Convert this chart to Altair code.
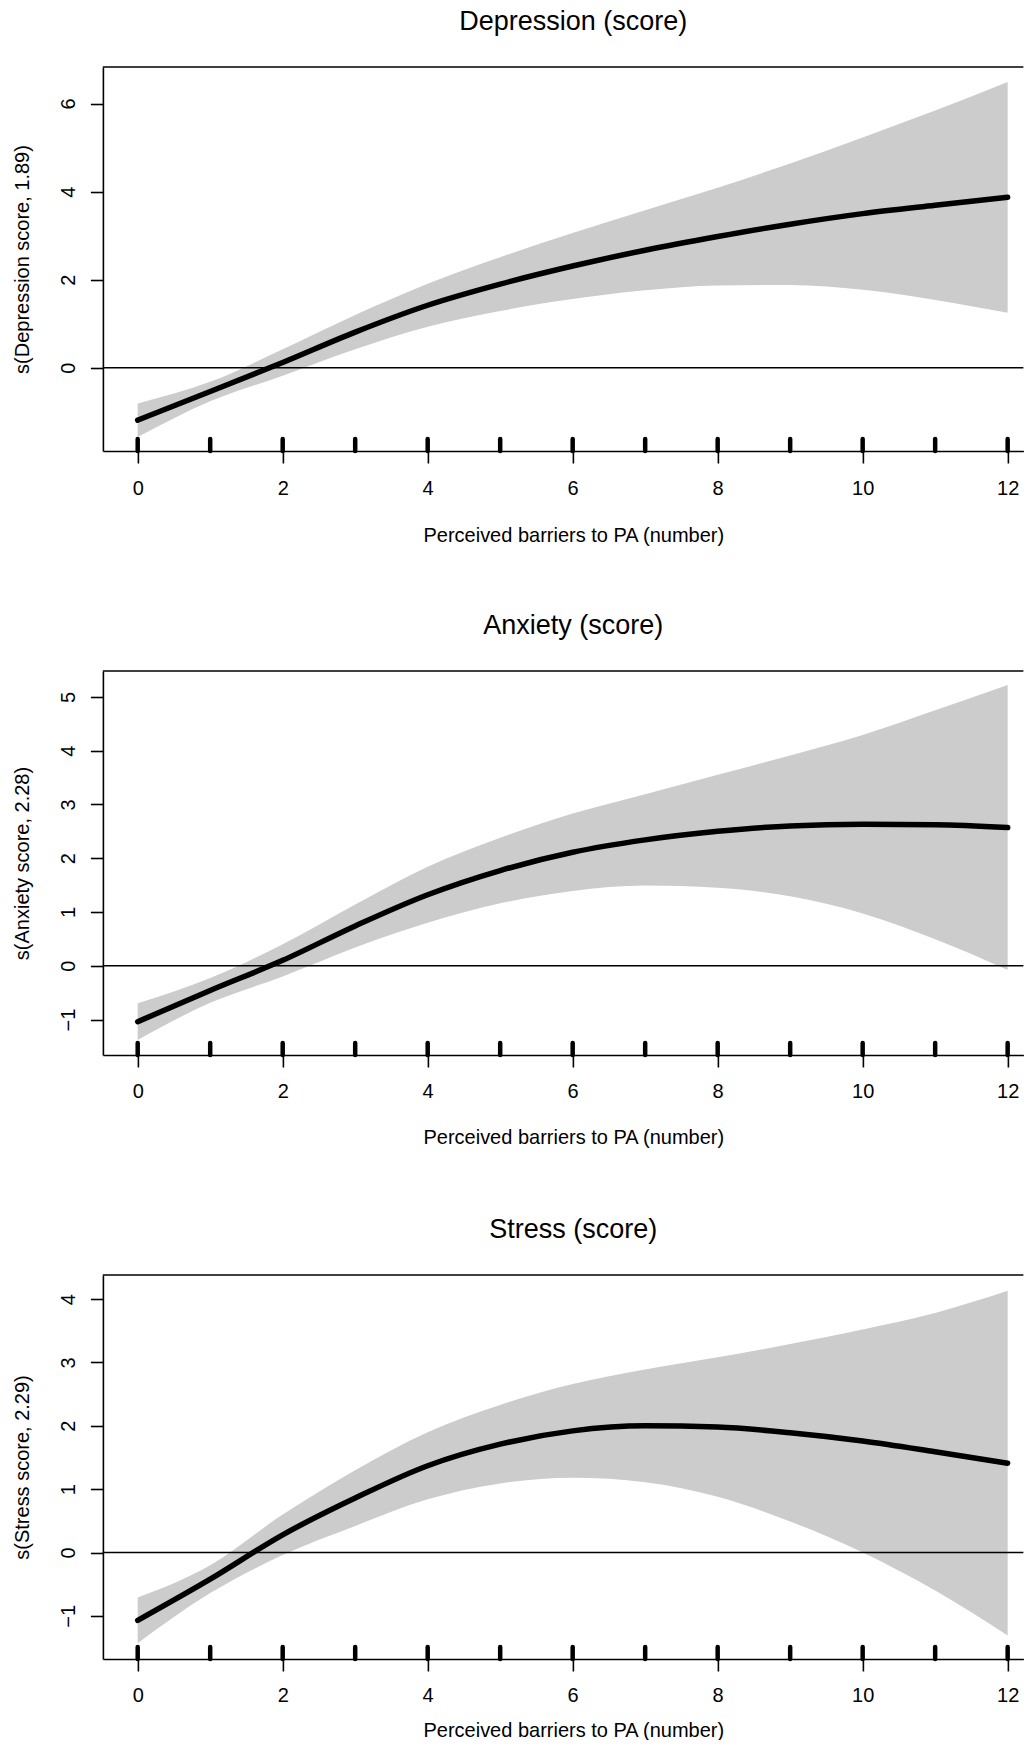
import altair as alt
import pandas as pd

# ---------------- data ----------------
x_vals = [0, 1, 2, 3, 4, 5, 6, 7, 8, 9, 10, 11, 12]
rug_positions = [0, 1, 2, 3, 4, 5, 6, 7, 8, 9, 10, 11, 12]
x_ticks = [0, 2, 4, 6, 8, 10, 12]
x_title = "Perceived barriers to PA (number)"

titles = ["Depression (score)", "Anxiety (score)", "Stress (score)"]
y_titles = ["s(Depression score, 1.89)", "s(Anxiety score, 2.28)", "s(Stress score, 2.29)"]

dep_fit = [-1.19, -0.54, 0.12, 0.81, 1.42, 1.90, 2.31, 2.67, 2.98, 3.26, 3.50, 3.69, 3.87]
dep_upper = [-0.81, -0.32, 0.42, 1.20, 1.91, 2.51, 3.06, 3.58, 4.09, 4.64, 5.23, 5.84, 6.49]
dep_lower = [-1.57, -0.76, -0.18, 0.42, 0.93, 1.29, 1.56, 1.76, 1.87, 1.88, 1.77, 1.54, 1.25]

anx_fit = [-1.04, -0.46, 0.10, 0.74, 1.32, 1.77, 2.11, 2.34, 2.50, 2.60, 2.63, 2.62, 2.57]
anx_upper = [-0.70, -0.23, 0.40, 1.14, 1.84, 2.38, 2.83, 3.19, 3.55, 3.91, 4.29, 4.75, 5.22]
anx_lower = [-1.38, -0.69, -0.20, 0.34, 0.80, 1.16, 1.39, 1.49, 1.45, 1.29, 0.97, 0.49, -0.08]

str_fit = [-1.07, -0.42, 0.28, 0.86, 1.37, 1.71, 1.92, 2.00, 1.98, 1.89, 1.76, 1.59, 1.41]
str_upper = [-0.71, -0.20, 0.60, 1.30, 1.90, 2.33, 2.66, 2.89, 3.08, 3.29, 3.52, 3.78, 4.13]
str_lower = [-1.43, -0.64, -0.04, 0.42, 0.84, 1.09, 1.18, 1.11, 0.88, 0.49, 0.00, -0.60, -1.31]

y_domains = [[-1.89, 6.83], [-1.66, 5.48], [-1.68, 4.38]]
y_ticks = [[0, 2, 4, 6], [-1, 0, 1, 2, 3, 4, 5], [-1, 0, 1, 2, 3, 4]]

# ---------------- layout / style ----------------
X_DOMAIN = [-0.48, 12.217]
PLOT_W = 920.5
PLOT_H = 384
FONT = "Liberation Sans"
BAND = "#cccccc"


def panel(title, ytitle, fit, lower, upper, ydomain, yticks, xtitle_y):
    df = pd.DataFrame({"x": x_vals, "fit": fit, "lower": lower, "upper": upper})
    xs = alt.Scale(domain=X_DOMAIN, nice=False, zero=False)
    ys = alt.Scale(domain=ydomain, nice=False, zero=False)

    x_axis = alt.Axis(
        values=x_ticks, title=x_title, tickSize=12, labelPadding=31,
        labelBaseline="alphabetic", labelFlush=False, labelOverlap=False,
        titleX=470.4, titleY=xtitle_y, titleBaseline="alphabetic", titleAlign="center",
    )
    y_axis = alt.Axis(
        values=yticks, title=ytitle, tickSize=12.5, labelPadding=16,
        labelAngle=270, labelAlign="center", labelBaseline="alphabetic",
        labelFlush=False, labelOverlap=False,
        titleX=-74.8, titleBaseline="alphabetic", titleAngle=270,
    )

    band = alt.Chart(df).mark_area(color=BAND, opacity=1, interpolate="monotone").encode(
        x=alt.X("x:Q", scale=xs, axis=x_axis),
        y=alt.Y("lower:Q", scale=ys, axis=y_axis),
        y2="upper:Q",
    )
    zero = alt.Chart(pd.DataFrame({"z": [0]})).mark_rule(color="black", strokeWidth=1.6).encode(
        y=alt.Y("z:Q", scale=ys, axis=y_axis)
    )
    line = alt.Chart(df).mark_line(
        color="black", strokeWidth=5.5, strokeCap="round", interpolate="monotone"
    ).encode(
        x=alt.X("x:Q", scale=xs, axis=x_axis),
        y=alt.Y("fit:Q", scale=ys, axis=y_axis),
    )
    rug = alt.Chart(pd.DataFrame({"r": rug_positions})).mark_rule(
        color="black", strokeWidth=4.5, strokeCap="round"
    ).encode(
        x=alt.X("r:Q", scale=xs, axis=x_axis),
        y=alt.value(PLOT_H),
        y2=alt.value(PLOT_H - 12),
    )
    top = alt.Chart(pd.DataFrame({"t": [ydomain[1]]})).mark_rule(color="black", strokeWidth=1.6).encode(
        y=alt.Y("t:Q", scale=ys, axis=y_axis)
    )
    ttl = alt.Chart(pd.DataFrame({"t": [title]})).mark_text(
        font=FONT, fontSize=27, align="center", baseline="alphabetic", color="black"
    ).encode(text="t:N", x=alt.value(470.4), y=alt.value(-36.8))
    return alt.layer(band, zero, line, rug, top, ttl).properties(width=PLOT_W, height=PLOT_H)


panels = [
    panel(titles[0], y_titles[0], dep_fit, dep_lower, dep_upper, y_domains[0], y_ticks[0], 90),
    panel(titles[1], y_titles[1], anx_fit, anx_lower, anx_upper, y_domains[1], y_ticks[1], 89),
    panel(titles[2], y_titles[2], str_fit, str_lower, str_upper, y_domains[2], y_ticks[2], 78),
]

chart = alt.vconcat(*panels, spacing=220, bounds="flush").properties(
    padding={"left": 3.9, "top": 0, "right": 0, "bottom": -1}
).configure_view(stroke=None).configure_axis(
    grid=False,
    domainColor="black", domainWidth=1.6,
    tickColor="black", tickWidth=1.6,
    labelColor="black", titleColor="black",
    labelFont=FONT, titleFont=FONT,
    labelFontSize=20, titleFontSize=20, titleFontWeight="normal",
)

chart.save("out.html", embed_options={"renderer": "svg", "actions": False})
